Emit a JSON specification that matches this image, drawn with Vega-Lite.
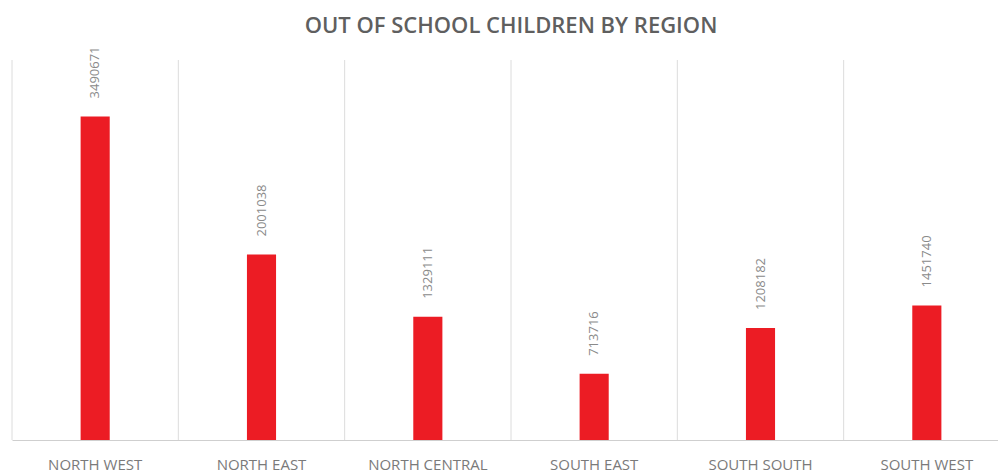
{
  "$schema": "https://vega.github.io/schema/vega-lite/v6.json",
  "autosize": "none",
  "width": 998,
  "height": 380,
  "padding": {"left": 12, "top": 60, "right": 0, "bottom": 34},
  "background": "white",
  "config": {"view": {"stroke": null}, "font": "Open Sans"},
  "title": {
    "text": "OUT OF SCHOOL CHILDREN BY REGION",
    "font": "Open Sans",
    "fontSize": 22,
    "fontWeight": 600,
    "color": "#5f5f5f",
    "anchor": "middle",
    "frame": "group",
    "offset": 8
  },
  "data": {
    "values": [
      {"region": "NORTH WEST", "children": 3490671},
      {"region": "NORTH EAST", "children": 2001038},
      {"region": "NORTH CENTRAL", "children": 1329111},
      {"region": "SOUTH EAST", "children": 713716},
      {"region": "SOUTH SOUTH", "children": 1208182},
      {"region": "SOUTH WEST", "children": 1451740}
    ]
  },
  "encoding": {
    "x": {
      "field": "region",
      "type": "nominal",
      "sort": null,
      "scale": {"paddingInner": 0, "paddingOuter": 0},
      "axis": {
        "title": null,
        "labelAngle": 0,
        "labelFont": "Open Sans",
        "labelFontSize": 15,
        "labelColor": "#7a7a7a",
        "labelPadding": 17,
        "ticks": false,
        "domainColor": "#cfcfcf",
        "domainWidth": 1
      }
    }
  },
  "layer": [
    {
      "mark": {"type": "rule", "color": "#dcdcdc", "strokeWidth": 1},
      "encoding": {
        "x": {"field": "region", "type": "nominal", "sort": null, "bandPosition": 0}
      }
    },
    {
      "mark": {"type": "bar", "color": "#ec1c24", "width": {"band": 0.175}},
      "encoding": {
        "y": {
          "field": "children",
          "type": "quantitative",
          "scale": {"domain": [0, 4100000], "nice": false},
          "axis": null
        }
      }
    },
    {
      "mark": {
        "type": "text",
        "angle": 270,
        "align": "left",
        "baseline": "middle",
        "dx": 18,
        "font": "Open Sans",
        "fontSize": 13,
        "color": "#8a8a8a"
      },
      "encoding": {
        "y": {"field": "children", "type": "quantitative"},
        "text": {"field": "children", "type": "quantitative", "format": "d"}
      }
    }
  ]
}
